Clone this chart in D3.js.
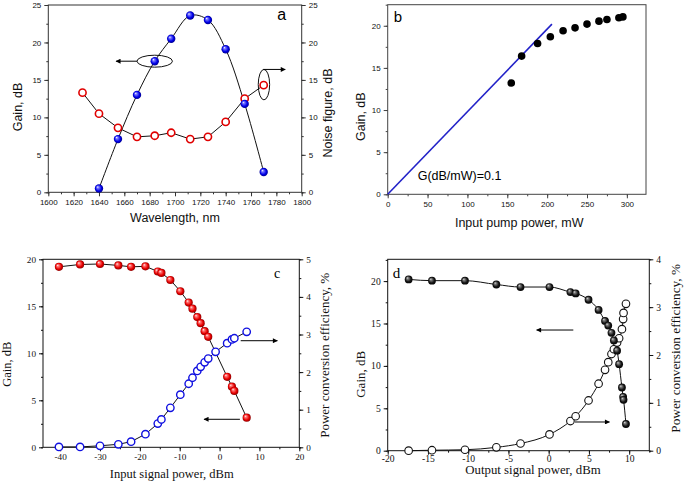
<!DOCTYPE html>
<html lang="en">
<head>
<meta charset="utf-8">
<style>
  body { margin: 0; background: #fff; }
  svg { display: block; background: #fff; }
  .sans text { font-family: "Liberation Sans", Arial, sans-serif; }
  .serif text { font-family: "Liberation Serif", "Times New Roman", serif; }
</style>
<script src="https://d3js.org/d3.v7.min.js"></script>
<title>Amplifier gain</title>
</head>
<body>
<div id="chart"></div>
<script>
// ---- panel a: gain and noise figure vs wavelength
var wlGain = [1640, 1655, 1670, 1684, 1697, 1712, 1726, 1740, 1755, 1770];
var gainA = [0.5, 7.1, 13.0, 17.5, 20.5, 23.6, 23.0, 19.1, 11.8, 2.7];
var wlNoise = [1627, 1640, 1655, 1670, 1684, 1697, 1712, 1726, 1740, 1755, 1770];
var noiseFig = [13.3, 10.5, 8.6, 7.4, 7.55, 7.95, 7.1, 7.4, 9.4, 12.5, 14.3];
var ticksWl = [1600, 1620, 1640, 1660, 1680, 1700, 1720, 1740, 1760, 1780, 1800];

// ---- panel b: gain vs pump power
var pumpPower = [155, 168, 188, 204, 220, 235, 250, 265, 275, 290, 295];
var gainB = [13.2, 16.4, 17.9, 18.7, 19.4, 19.75, 20.2, 20.55, 20.75, 20.95, 21.05];
var fitPump = [0, 206];
var fitGain = [0, 20.2];

// ---- panel c: gain and PCE vs input signal
var inSigGain = [-40.3, -35, -30, -25.4, -22.2, -18.6, -15.5, -14.6, -12.35, -9.85, -7.75, -6.8, -5.6, -4.75, -3.75, -2.85, 1.9, 3.1, 3.7, 6.8];
var gainC = [19.2, 19.45, 19.5, 19.35, 19.2, 19.25, 18.7, 18.55, 17.8, 16.6, 15.4, 14.75, 13.85, 13.2, 12.35, 11.75, 7.5, 6.45, 6.0, 3.15];
var inSigPce = [-40.3, -35, -30, -25.4, -22.2, -18.6, -15.5, -14.6, -12.35, -9.85, -7.75, -6.8, -5.6, -4.75, -3.75, -2.85, -1, 1.9, 3.1, 3.7, 6.8];
var pceC = [0.01, 0.01, 0.04, 0.08, 0.15, 0.35, 0.63, 0.74, 1.05, 1.4, 1.69, 1.85, 2.03, 2.14, 2.26, 2.36, 2.54, 2.77, 2.87, 2.9, 3.07];

// ---- panel d: gain and PCE vs output signal
var outSig = [-17.4, -14.5, -10.4, -6.5, -3.5, 0.1, 2.7, 3.35, 4.95, 6.2, 7.0, 7.4, 7.8, 8.1, 8.5, 8.75, 9.1, 9.25, 9.3, 9.6];
var gainD = [20.2, 20.05, 20.05, 19.6, 19.3, 19.3, 18.7, 18.55, 17.8, 16.6, 15.3, 14.75, 13.9, 13.0, 11.8, 10.2, 7.45, 6.35, 6.0, 3.15];
var pceD = [0, 0.01, 0.02, 0.07, 0.15, 0.34, 0.62, 0.72, 1.05, 1.40, 1.69, 1.85, 2.02, 2.12, 2.26, 2.35, 2.54, 2.75, 2.88, 3.07];

var width = 685, height = 488;

var svg = d3.select("#chart").append("svg")
    .attr("width", width).attr("height", height);

var defs = svg.append("defs");

// shiny ball gradient
function sphere(id, c0, c1, c2, c3) {
    var gr = defs.append("radialGradient").attr("id", id)
        .attr("cx", "50%").attr("cy", "50%").attr("r", "55%")
        .attr("fx", "33%").attr("fy", "30%");
    gr.append("stop").attr("offset", "0%").attr("stop-color", c0);
    gr.append("stop").attr("offset", "22%").attr("stop-color", c1);
    gr.append("stop").attr("offset", "65%").attr("stop-color", c2);
    gr.append("stop").attr("offset", "100%").attr("stop-color", c3);
}
sphere("ballBlue", "#ffffff", "#7a7aff", "#0000e8", "#00007a");
sphere("ballRed", "#ffffff", "#ff7a7a", "#e80000", "#7a0000");
sphere("ballBlack", "#e0e0e0", "#808080", "#151515", "#000000");

defs.append("marker").attr("id", "arrow")
    .attr("viewBox", "0 0 10 10").attr("refX", 9).attr("refY", 5)
    .attr("markerWidth", 7).attr("markerHeight", 5)
    .attr("markerUnits", "userSpaceOnUse")
    .attr("orient", "auto")
  .append("path").attr("d", "M0,0L10,5L0,10z").attr("fill", "#000");

function range(a, b, s) { return d3.range(a, b + s / 2, s); }
function fmt(d) { return String(+d.toFixed(2)); }

// frame with box, major+minor outward ticks
function panel(o) {
    var g = svg.append("g").attr("class", o.cls)
        .attr("transform", "translate(" + o.left + "," + o.top + ")");
    var x = d3.scaleLinear().domain(o.xDom).range([0, o.w]);
    var y = d3.scaleLinear().domain(o.yDom).range([o.h, 0]);
    var y2 = o.y2Dom ? d3.scaleLinear().domain(o.y2Dom).range([o.h, 0]) : null;
    var pad = o.pad || 3;

    function put(axis, tr) {
        var a = g.append("g").attr("transform", tr).call(axis);
        a.select(".domain").remove();
        a.selectAll("line").attr("stroke", o.col);
        a.selectAll("text").attr("font-size", o.tickFont).attr("fill", "#111");
        return a;
    }
    put(d3.axisBottom(x).tickValues(o.xMinor).tickSize(2).tickFormat(""), "translate(0," + o.h + ")");
    put(d3.axisBottom(x).tickValues(o.xTicks).tickSize(4).tickPadding(pad).tickFormat(fmt), "translate(0," + o.h + ")");
    put(d3.axisLeft(y).tickValues(o.yMinor).tickSize(2).tickFormat(""), null);
    put(d3.axisLeft(y).tickValues(o.yTicks).tickSize(4).tickPadding(3).tickFormat(fmt), null);
    if (y2) {
        put(d3.axisRight(y2).tickValues(o.y2Minor).tickSize(2).tickFormat(""), "translate(" + o.w + ",0)");
        put(d3.axisRight(y2).tickValues(o.y2Ticks).tickSize(4).tickPadding(3).tickFormat(fmt), "translate(" + o.w + ",0)");
    }
    g.append("rect").attr("width", o.w).attr("height", o.h)
        .attr("fill", "none").attr("stroke", o.col).attr("stroke-width", 1);
    return { g: g, x: x, y: y, y2: y2 };
}

function title(g, txt, x, y, rot, size) {
    g.append("text").attr("transform", "translate(" + x + "," + y + ")" + (rot ? " rotate(-90)" : ""))
        .attr("text-anchor", "middle").attr("font-size", size || 12.5).attr("fill", "#111").text(txt);
}

function arrow(p, x1, x2, yv, ys) {
    p.g.append("line")
        .attr("x1", p.x(x1)).attr("x2", p.x(x2))
        .attr("y1", ys(yv)).attr("y2", ys(yv))
        .attr("stroke", "#000").attr("stroke-width", 1)
        .attr("marker-end", "url(#arrow)");
}

// ================= panel a
var pa = panel({
    cls: "sans", left: 48.3, top: 5, w: 253.4, h: 187.3, col: "#333", tickFont: 8,
    xDom: [1600, 1800], xTicks: ticksWl, xMinor: range(1600, 1800, 10),
    yDom: [0, 25], yTicks: range(0, 25, 5), yMinor: range(0, 25, 2.5),
    y2Dom: [0, 25], y2Ticks: range(0, 25, 5), y2Minor: range(0, 25, 2.5)
});
var ptsA = wlGain.map(function(d, i) { return [d, gainA[i]]; });
var ptsNF = wlNoise.map(function(d, i) { return [d, noiseFig[i]]; });
pa.g.append("path").datum(ptsA)
    .attr("d", d3.line().x(function(d) { return pa.x(d[0]); }).y(function(d) { return pa.y(d[1]); })
        .curve(d3.curveCatmullRom.alpha(0.5)))
    .attr("fill", "none").attr("stroke", "#111").attr("stroke-width", 1);
pa.g.append("path").datum(ptsNF)
    .attr("d", d3.line().x(function(d) { return pa.x(d[0]); }).y(function(d) { return pa.y2(d[1]); }))
    .attr("fill", "none").attr("stroke", "#111").attr("stroke-width", 1);
pa.g.selectAll(".nf").data(ptsNF).enter().append("circle")
    .attr("cx", function(d) { return pa.x(d[0]); }).attr("cy", function(d) { return pa.y2(d[1]); })
    .attr("r", 3.6).attr("fill", "#fff").attr("stroke", "#e00000").attr("stroke-width", 1.6);
pa.g.selectAll(".ga").data(ptsA).enter().append("circle")
    .attr("cx", function(d) { return pa.x(d[0]); }).attr("cy", function(d) { return pa.y(d[1]); })
    .attr("r", 4.2).attr("fill", "url(#ballBlue)");
// ellipse + arrow annotations
pa.g.append("ellipse").attr("cx", pa.x(1684)).attr("cy", pa.y(17.5))
    .attr("rx", pa.x(1698) - pa.x(1684)).attr("ry", pa.y(17.5) - pa.y(18.3))
    .attr("fill", "none").attr("stroke", "#111");
arrow(pa, 1670, 1653.5, 17.5, pa.y);
pa.g.append("ellipse").attr("cx", pa.x(1770.2)).attr("cy", pa.y2(14.37))
    .attr("rx", pa.x(1774.5) - pa.x(1770)).attr("ry", pa.y2(14.37) - pa.y2(16.4))
    .attr("fill", "none").attr("stroke", "#111");
arrow(pa, 1769.7, 1787, 16.4, pa.y2);
pa.g.append("text").attr("x", 229).attr("y", 15).attr("font-size", 16).text("a");
title(pa.g, "Gain, dB", -26.5, 102, true);
title(pa.g, "Noise figure, dB", 284, 108, true);
title(pa.g, "Wavelength, nm", 126.7, 217);

// ================= panel b
var pb = panel({
    cls: "sans", left: 387.7, top: 4.7, w: 258.3, h: 189.6, col: "#444", tickFont: 8,
    xDom: [0, 324], xTicks: range(0, 300, 50), xMinor: range(0, 300, 25),
    yDom: [0, 22.5], yTicks: range(0, 20, 5), yMinor: range(0, 22.5, 2.5)
});
pb.g.append("line")
    .attr("x1", pb.x(fitPump[0])).attr("y1", pb.y(fitGain[0]))
    .attr("x2", pb.x(fitPump[1])).attr("y2", pb.y(fitGain[1]))
    .attr("stroke", "#2222c8").attr("stroke-width", 1.6);
pb.g.selectAll(".gb").data(pumpPower).enter().append("circle")
    .attr("cx", function(d) { return pb.x(d); }).attr("cy", function(d, i) { return pb.y(gainB[i]); })
    .attr("r", 3.8).attr("fill", "#000");
pb.g.append("text").attr("x", 30).attr("y", 175.5).attr("font-size", 12.5).text("G(dB/mW)=0.1");
pb.g.append("text").attr("x", 6).attr("y", 17.5).attr("font-size", 15).text("b");
title(pb.g, "Gain, dB", -22.5, 112, true);
title(pb.g, "Input pump power, mW", 131.5, 222);

// ================= panel c
var pc = panel({
    cls: "serif", left: 43, top: 259.3, w: 256.3, h: 188, col: "#111", tickFont: 9.2, pad: 2,
    xDom: [-44.3, 20], xTicks: range(-40, 20, 10), xMinor: range(-40, 20, 5),
    yDom: [0, 20], yTicks: range(0, 20, 5), yMinor: range(0, 20, 2.5),
    y2Dom: [0, 5], y2Ticks: range(0, 5, 1), y2Minor: range(0, 5, 0.5)
});
var ptsCg = inSigGain.map(function(d, i) { return [d, gainC[i]]; });
var ptsCp = inSigPce.map(function(d, i) { return [d, pceC[i]]; });
pc.g.append("path").datum(ptsCg)
    .attr("d", d3.line().x(function(d) { return pc.x(d[0]); }).y(function(d) { return pc.y(d[1]); }))
    .attr("fill", "none").attr("stroke", "#111").attr("stroke-width", 1);
pc.g.append("path").datum(ptsCp)
    .attr("d", d3.line().x(function(d) { return pc.x(d[0]); }).y(function(d) { return pc.y2(d[1]); }))
    .attr("fill", "none").attr("stroke", "#111").attr("stroke-width", 1);
pc.g.selectAll(".cg").data(ptsCg).enter().append("circle")
    .attr("cx", function(d) { return pc.x(d[0]); }).attr("cy", function(d) { return pc.y(d[1]); })
    .attr("r", 4.1).attr("fill", "url(#ballRed)");
pc.g.selectAll(".cp").data(ptsCp).enter().append("circle")
    .attr("cx", function(d) { return pc.x(d[0]); }).attr("cy", function(d) { return pc.y2(d[1]); })
    .attr("r", 3.7).attr("fill", "#fff").attr("stroke", "#1010e0").attr("stroke-width", 1.4);
arrow(pc, 5.3, 14.5, 2.835, pc.y2);
arrow(pc, 5.1, -3.9, 2.98, pc.y);
pc.g.append("text").attr("x", 231).attr("y", 19).attr("font-size", 14)
    .attr("font-family", "Liberation Sans, Arial, sans-serif").text("c");
title(pc.g, "Gain, dB", -32, 105, true);
title(pc.g, "Power conversion efficiency, %", 286, 96, true, 13);
title(pc.g, "Input signal power, dBm", 128.7, 219);

// ================= panel d
var pd = panel({
    cls: "serif", left: 387.7, top: 259.3, w: 261.6, h: 191.4, col: "#111", tickFont: 9.6, pad: 0.5,
    xDom: [-20, 12.5], xTicks: range(-20, 10, 5), xMinor: range(-20, 12.5, 2.5),
    yDom: [0, 22.57], yTicks: range(0, 20, 5), yMinor: range(0, 22.5, 2.5),
    y2Dom: [0, 4], y2Ticks: range(0, 4, 1), y2Minor: range(0, 4, 0.5)
});
var ptsDg = outSig.map(function(d, i) { return [d, gainD[i]]; });
var ptsDp = outSig.map(function(d, i) { return [d, pceD[i]]; });
pd.g.append("path").datum(ptsDg)
    .attr("d", d3.line().x(function(d) { return pd.x(d[0]); }).y(function(d) { return pd.y(d[1]); })
        .curve(d3.curveMonotoneX))
    .attr("fill", "none").attr("stroke", "#111").attr("stroke-width", 1);
pd.g.append("path").datum(ptsDp)
    .attr("d", d3.line().x(function(d) { return pd.x(d[0]); }).y(function(d) { return pd.y2(d[1]); })
        .curve(d3.curveMonotoneX))
    .attr("fill", "none").attr("stroke", "#111").attr("stroke-width", 1);
pd.g.selectAll(".dp").data(ptsDp).enter().append("circle")
    .attr("cx", function(d) { return pd.x(d[0]); }).attr("cy", function(d) { return pd.y2(d[1]); })
    .attr("r", 3.8).attr("fill", "#fff").attr("stroke", "#111").attr("stroke-width", 1.1);
pd.g.selectAll(".dg").data(ptsDg).enter().append("circle")
    .attr("cx", function(d) { return pd.x(d[0]); }).attr("cy", function(d) { return pd.y(d[1]); })
    .attr("r", 3.9).attr("fill", "url(#ballBlack)");
arrow(pd, 3.06, -1.5, 14.23, pd.y);
arrow(pd, 3.27, 7.55, 0.6, pd.y2);
pd.g.append("text").attr("x", 5).attr("y", 19).attr("font-size", 15)
    .attr("font-family", "Liberation Sans, Arial, sans-serif").text("d");
title(pd.g, "Gain, dB", -22.5, 115, true, 13);
title(pd.g, "Power conversion efficiency, %", 292, 89, true, 13.3);
title(pd.g, "Output signal power, dBm", 145.3, 215, false, 12.8);
</script>
</body>
</html>
